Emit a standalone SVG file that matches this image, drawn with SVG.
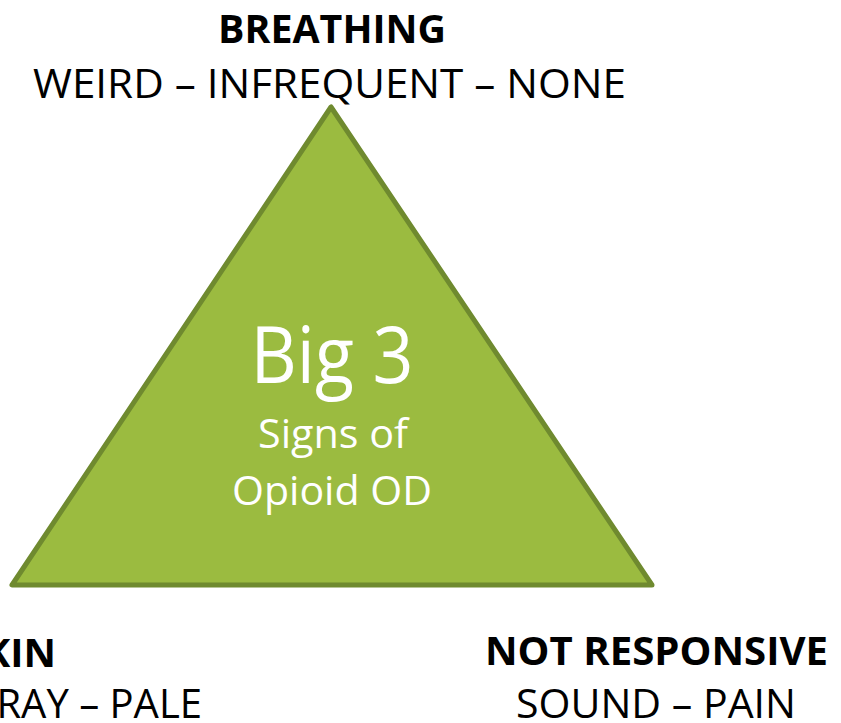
<svg xmlns="http://www.w3.org/2000/svg" width="841" height="723" viewBox="0 0 841 723">
<style>
text{font-family:"Open Sans","Liberation Sans",sans-serif;}
.h{font-weight:bold;font-size:40px;fill:#000;}
.s{font-size:40px;fill:#000;}
.w{fill:#fff;text-anchor:middle;}
</style>
<rect width="841" height="723" fill="#fff"/>
<g id="triangle">
<polygon points="331,107 12,585 652,585" fill="#9BBB40" stroke="#6F8A2F" stroke-width="5" stroke-linejoin="round"/>
<text class="w" x="332" y="383" font-size="78" textLength="163" lengthAdjust="spacingAndGlyphs">Big 3</text>
<text class="w" x="333" y="448" font-size="40" textLength="150" lengthAdjust="spacingAndGlyphs">Signs of</text>
<text class="w" x="332" y="505" font-size="40" textLength="200" lengthAdjust="spacingAndGlyphs">Opioid OD</text>
</g>
<g id="breathing">
<text class="h" x="218" y="43" textLength="228" lengthAdjust="spacingAndGlyphs">BREATHING</text>
<text class="s" x="33" y="98" textLength="593" lengthAdjust="spacingAndGlyphs">WEIRD – INFREQUENT – NONE</text>
</g>
<g id="skin">
<text class="h" x="56" y="667" text-anchor="end">SKIN</text>
<text class="s" x="202" y="718" text-anchor="end">GRAY – PALE</text>
</g>
<g id="notresponsive">
<text class="h" x="485" y="665" textLength="343" lengthAdjust="spacingAndGlyphs">NOT RESPONSIVE</text>
<text class="s" x="516" y="718" textLength="280" lengthAdjust="spacingAndGlyphs">SOUND – PAIN</text>
</g>
<g id="connectors"/>
</svg>
